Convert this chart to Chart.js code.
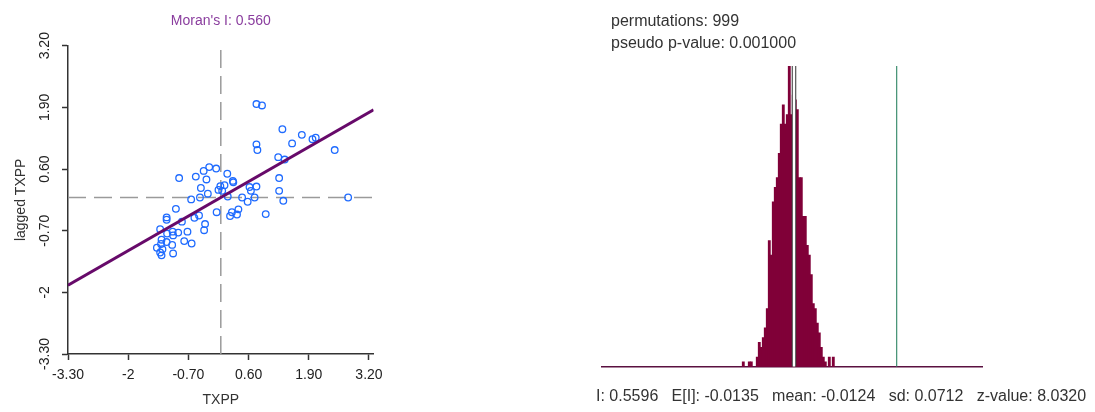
<!DOCTYPE html>
<html>
<head>
<meta charset="utf-8">
<script src="https://cdn.jsdelivr.net/npm/chart.js@4.4.1/dist/chart.umd.min.js"></script>
<style>
  body { margin: 0; background: #fff; width: 1095px; height: 412px; overflow: hidden; position: relative;
         font-family: "Liberation Sans", Arial, sans-serif; }
  #left { position: absolute; left: 0; top: 0; }
  #right { position: absolute; left: 580px; top: 0; }
  .stat { position: absolute; font-size: 16px; line-height: 16px; color: #333; white-space: pre; }
</style>
</head>
<body>
<canvas id="left" width="442" height="412"></canvas>
<canvas id="right" width="515" height="412"></canvas>
<div class="stat" id="perm" style="left:611px; top:13px"></div>
<div class="stat" id="pval" style="left:611px; top:35px"></div>
<div class="stat" id="summary" style="left:596px; top:388px"></div>
<script>
// Moran scatter plot: standardized TXPP vs its spatial lag
var txpp = [0.77, 0.89, 1.33, 1.75, 1.54, 1.98, 2.05, 2.46, 0.77, 0.79, 1.24, 1.38, 1.26, 1.26, 1.35, 2.75,
  -0.90, -0.54, -0.37, -0.25, -0.10, -0.31, 0.14, 0.26, 0.27, -0.43, -0.28, -0.01, 0.08, -0.05, 0.03, -0.64, -0.45, 0.15, 0.46, 0.62, 0.77, 0.65, 0.58, 0.73,
  -0.97, -1.17, -1.17, -0.84, -0.57, -0.47, -0.09, 0.20, 0.24, 0.35, 0.38, 0.97, -0.34, -0.36, -0.72, -1.31, -1.04, -1.03, -0.92, -1.16,
  -1.28, -1.17, -1.29, -1.05, -0.79, -0.63, -1.38, -1.26, -1.31, -1.28, -1.03];
var laggedTxpp = [1.97, 1.94, 1.44, 1.32, 1.14, 1.23, 1.26, 1.00, 1.12, 1.00, 0.85, 0.80, 0.41, 0.14, -0.07, 0.00,
  0.41, 0.44, 0.56, 0.64, 0.61, 0.38, 0.50, 0.35, 0.32, 0.20, 0.08, 0.24, 0.26, 0.16, 0.14, -0.04, 0.00, 0.02, 0.00, 0.22, 0.23, 0.14, -0.09, 0.00,
  -0.24, -0.42, -0.47, -0.51, -0.43, -0.38, -0.31, -0.39, -0.31, -0.36, -0.25, -0.35, -0.56, -0.69, -0.72, -0.67, -0.72, -0.80, -0.74, -0.76,
  -0.89, -0.94, -0.98, -1.00, -0.92, -0.97, -1.06, -1.09, -1.16, -1.22, -1.18];
var axisTickValues = [-3.3, -2, -0.7, 0.6, 1.9, 3.2];
var axisTickLabels = ['-3.30', '-2', '-0.70', '0.60', '1.90', '3.20'];
var moransI = 0.560;

// permutation histogram (bin centres in I units, counts)
var binCenters = [-0.2948, -0.2614, -0.2503, -0.2169, -0.2057, -0.1946, -0.1834, -0.1723, -0.1611, -0.1500,
  -0.1389, -0.1277, -0.1166, -0.1054, -0.0943, -0.0832, -0.0720, -0.0609, -0.0497, -0.0386,
  -0.0274, -0.0163, -0.0052, 0.0060, 0.0171, 0.0283, 0.0394, 0.0505, 0.0617, 0.0728,
  0.0840, 0.0951, 0.1063, 0.1174, 0.1285, 0.1397, 0.1508, 0.1620, 0.1843, 0.2066];
var binCounts = [1, 1, 1, 2, 5, 4, 6, 8, 12, 26,
  23, 34, 37, 39, 44, 50, 54, 50, 52, 62,
  52, 56, 55, 53, 39, 39, 31, 31, 25, 23,
  19, 13, 12, 9, 7, 4, 2, 1, 2, 2];
var permutations = 999;
var pseudoP = '0.001000';
var observedI = 0.5596;
var expectedI = -0.0135;
var meanI = -0.0124;
var sdI = 0.0712;
var zValue = 8.0320;

Chart.defaults.font.family = "'Liberation Sans', Arial, sans-serif";

var points = [];
for (var i = 0; i < txpp.length; i++) {
  points.push({x: txpp[i], y: laggedTxpp[i]});
}

new Chart(document.getElementById('left'), {
  type: 'scatter',
  data: {
    datasets: [
      {
        type: 'line',
        data: [{x: -3.3, y: -3.3 * moransI}, {x: 3.3, y: 3.3 * moransI}],
        borderColor: '#670a6a', borderWidth: 3, pointRadius: 0
      },
      {
        data: points,
        pointStyle: 'circle', pointRadius: 3.3, borderWidth: 1.3,
        borderColor: '#1f6bff', backgroundColor: 'rgba(0,0,0,0)'
      },
      {
        type: 'line',
        data: [{x: 0, y: -3.3}, {x: 0, y: 3.2}],
        borderColor: '#9a9a9a', borderWidth: 1.5, borderDash: [18, 8], pointRadius: 0
      },
      {
        type: 'line',
        data: [{x: -3.3, y: 0}, {x: 3.3, y: 0}],
        borderColor: '#9a9a9a', borderWidth: 1.5, borderDash: [18, 8], pointRadius: 0
      }
    ]
  },
  options: {
    responsive: false,
    animation: false,
    events: [],
    layout: {padding: {left: 0, right: 68.4, top: 0, bottom: 0}},
    plugins: {
      legend: {display: false},
      tooltip: {enabled: false},
      title: {
        display: true,
        fullSize: false,
        text: "Moran's I: " + moransI.toFixed(3),
        color: '#8a3d9e',
        font: {size: 14, weight: 'normal'},
        padding: {top: 12.6, bottom: 16.3}
      }
    },
    scales: {
      x: {
        type: 'linear', min: -3.3, max: 3.3,
        afterBuildTicks: function (s) { s.ticks = axisTickValues.map(function (v) { return {value: v}; }); },
        afterFit: function (s) { s.height = 58; },
        ticks: {
          callback: function (v, idx) { return axisTickLabels[idx]; },
          color: '#222', font: {size: 14}, padding: 7, autoSkip: false, maxRotation: 0
        },
        grid: {drawOnChartArea: false, tickLength: 6, tickColor: '#333', tickWidth: 1.5},
        border: {color: '#333', width: 1.5},
        title: {display: true, text: 'TXPP', color: '#333', font: {size: 14}, padding: {top: 0, bottom: 3.6}}
      },
      y: {
        type: 'linear', min: -3.3, max: 3.2,
        afterBuildTicks: function (s) { s.ticks = axisTickValues.map(function (v) { return {value: v}; }); },
        afterFit: function (s) { s.width = 68; },
        ticks: {
          callback: function (v, idx) { return axisTickLabels[idx]; },
          color: '#222', font: {size: 14}, padding: 1, autoSkip: false,
          minRotation: 90, maxRotation: 90, crossAlign: 'center'
        },
        grid: {drawOnChartArea: false, tickLength: 6, tickColor: '#333', tickWidth: 1.5},
        border: {color: '#333', width: 1.5},
        title: {display: true, text: 'lagged TXPP', color: '#333', font: {size: 14}, padding: {top: 12.6, bottom: 0}}
      }
    }
  }
});

var bars = [];
for (var j = 0; j < binCenters.length; j++) {
  bars.push({x: binCenters[j], y: binCounts[j]});
}
var histTop = Math.max.apply(null, binCounts);

new Chart(document.getElementById('right'), {
  type: 'bar',
  data: {
    datasets: [
      {
        type: 'line',
        data: [{x: observedI, y: 0}, {x: observedI, y: histTop}],
        borderColor: '#3f8f70', borderWidth: 1.2, pointRadius: 0
      },
      {
        type: 'line',
        data: [{x: meanI, y: 0}, {x: meanI, y: histTop}],
        borderColor: '#ffffff', borderWidth: 2.5, pointRadius: 0, borderCapStyle: 'butt'
      },
      {
        type: 'line',
        data: [{x: meanI, y: 0}, {x: meanI, y: histTop}],
        borderColor: '#333', borderWidth: 4.5, pointRadius: 0, borderCapStyle: 'butt'
      },
      {
        type: 'bar',
        data: bars,
        backgroundColor: '#800038', borderWidth: 0, barThickness: 2.2
      }
    ]
  },
  options: {
    responsive: false,
    animation: false,
    events: [],
    layout: {padding: {left: 22, right: 113, top: 66, bottom: 45.3}},
    plugins: {legend: {display: false}, tooltip: {enabled: false}},
    scales: {
      x: {
        type: 'linear', min: -1.082, max: 1.035, offset: false,
        ticks: {display: false},
        grid: {display: false, drawTicks: false},
        border: {color: '#5a1040', width: 1.5}
      },
      y: {display: false, min: 0, max: histTop, stacked: false}
    }
  }
});

document.getElementById('perm').textContent = 'permutations: ' + permutations;
document.getElementById('pval').textContent = 'pseudo p-value: ' + pseudoP;
document.getElementById('summary').textContent =
  'I: ' + observedI.toFixed(4) + '   E[I]: ' + expectedI.toFixed(4) + '   mean: ' + meanI.toFixed(4) +
  '   sd: ' + sdI.toFixed(4) + '   z-value: ' + zValue.toFixed(4);
</script>
</body>
</html>
